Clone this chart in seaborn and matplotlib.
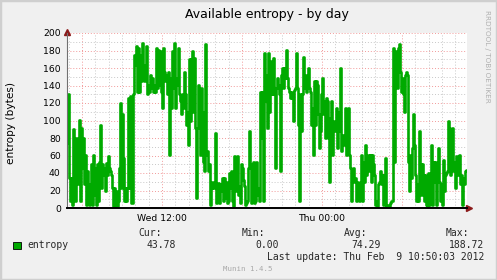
import numpy as np
import pandas as pd
import matplotlib
matplotlib.use("Agg")
import matplotlib.pyplot as plt
import matplotlib.dates as mdates
from matplotlib.ticker import MultipleLocator, FuncFormatter
from matplotlib.patches import Rectangle
import seaborn as sns

# ---- data (entropy in bytes, one sample per 270 s) ----
start_time = "2012-02-08 04:52:30"
sample_seconds = 270
entropy_wed_morning = [
    74, 130, 34, 8, 34, 4, 90, 53, 8, 80,
    27, 69, 101, 8, 91, 46, 80, 27, 61, 4,
    42, 27, 4, 8, 50, 4, 61, 15, 46, 4,
    50, 8, 53, 95, 23, 50, 38, 46, 19, 51,
    38, 59, 46, 42, 38, 23, 2, 23, 2, 19,
    2, 8, 46, 120, 23, 107, 57, 8, 23, 8,
    23, 126, 23, 128, 6, 6, 130, 175, 164, 185,
    133, 183, 133, 175, 145, 189, 160, 145, 164, 185,
    130, 141, 133, 152, 137, 149, 133, 141, 133, 183,
    137, 181, 141, 179, 133, 114, 183, 156, 145, 152,
]
entropy_wed_afternoon = [
    130, 156, 61, 149, 114, 179, 137, 189, 114, 149,
    141, 183, 130, 122, 107, 130, 114, 156, 130, 95,
    110, 72, 170, 99, 170, 179, 110, 171, 91, 11,
    91, 141, 126, 61, 137, 110, 53, 42, 187, 61,
    65, 42, 50, 4, 23, 30, 23, 27, 86, 6,
    27, 29, 6, 27, 19, 34, 8, 34, 11, 30,
    6, 8, 40, 23, 42, 8, 2, 59, 19, 23,
    59, 15, 25, 6, 50, 46, 32, 25, 4, 6,
    8, 46, 88, 50, 6, 8, 53, 6, 8, 53,
    23, 15, 8, 133, 80, 133, 8, 177, 122, 152,
    91, 177, 110,
]
entropy_night = [
    130, 168, 130, 171, 130, 46, 137, 149, 141, 130,
    42, 152, 160, 137, 160, 149, 181, 149, 137, 133,
    126, 133, 126, 99, 135, 137, 177, 137, 95, 8,
    130, 88, 130, 173, 137, 152, 133, 137, 160, 137,
    133, 95, 114, 61, 145, 95, 145, 141, 107, 69,
    88, 130, 149, 107, 122, 80, 126, 122, 80, 30,
    103, 122, 61, 91, 99, 88, 114, 69, 88, 110,
    160, 65, 84, 84, 72, 114, 61, 72, 114, 61,
    46, 8, 34, 46, 30, 34, 8, 30, 15, 8,
    30, 61, 8, 53, 30, 72, 38, 53, 61, 42,
]
entropy_thu_morning = [
    61, 30, 61, 50, 38, 4, 8, 2, 27, 30,
    42, 27, 38, 4, 38, 57, 2, 4, 4, 2,
    6, 8, 8, 183, 53, 168, 179, 137, 183, 187,
    156, 133, 149, 130, 110, 152, 156, 152, 53, 19,
    61, 34, 69, 107, 72, 38, 8, 27, 8, 88,
    50, 15, 50, 38, 8, 38, 4, 2, 40, 4,
    30, 72, 4, 53, 30, 53, 4, 38, 69, 30,
    8, 27, 4, 55, 19, 38, 40, 42, 99, 91,
    38, 88, 91, 42, 53, 23, 59, 38, 38, 61,
    27, 38, 4, 34, 27, 42, 43.78,
]
x_range = ["2012-02-08 04:52:30", "2012-02-09 10:52:30"]
y_ticks = [0, 20, 40, 60, 80, 100, 120, 140, 160, 180, 200]
stat_headers = ["Cur:", "Min:", "Avg:", "Max:"]
stat_values = ["43.78", "0.00", "74.29", "188.72"]
series_name = "entropy"
last_update = "Last update: Thu Feb  9 10:50:03 2012"

values = (entropy_wed_morning + entropy_wed_afternoon
          + entropy_night + entropy_thu_morning)
times = pd.date_range(start=start_time, periods=len(values),
                      freq=f"{sample_seconds}s")
df = pd.DataFrame({"time": times, "entropy": values})

# ---- figure ----
sns.set_style("white")
plt.rcParams["font.family"] = ["DejaVu Sans"]
W, H = 497, 280
BG = "#F0F0F0"
fig = plt.figure(figsize=(W / 100, H / 100), dpi=100, facecolor=BG)

def fx(px):
    return px / W

def fy(py):
    return 1 - py / H

# frame
fig.patches.append(Rectangle((0, 0), 1, 1, transform=fig.transFigure,
                             fill=False, edgecolor="#CFCFCF", linewidth=2.5))

ax = fig.add_axes([fx(67), fy(208), fx(400), 175 / H])
ax.set_facecolor("white")

GREEN = "#00AA00"
sns.lineplot(data=df, x="time", y="entropy", ax=ax, color=GREEN,
             linewidth=1.9, legend=False, drawstyle="steps-mid")

ax.set_xlim(pd.Timestamp(x_range[0]), pd.Timestamp(x_range[1]))
ax.set_ylim(y_ticks[0], y_ticks[-1])

# grids
ax.yaxis.set_major_locator(MultipleLocator(20))
ax.yaxis.set_minor_locator(MultipleLocator(10))
ax.xaxis.set_major_locator(mdates.HourLocator(byhour=[0, 6, 12, 18]))
ax.xaxis.set_minor_locator(mdates.HourLocator(interval=1))

def xfmt(v, pos):
    d = mdates.num2date(v)
    if d.hour in (0, 12) and d.minute == 0:
        return d.strftime("%a %H:%M")
    return ""

ax.xaxis.set_major_formatter(FuncFormatter(xfmt))
ax.grid(which="minor", color="#C8C8C8", linestyle=(0, (1, 2)), linewidth=0.7)
ax.grid(which="major", color="#F29A9A", linestyle=(0, (1, 2)), linewidth=0.7)
ax.set_axisbelow(True)

ax.tick_params(axis="both", which="both", labelsize=6.7, colors="#555555",
               labelcolor="black", direction="inout")
ax.tick_params(axis="y", which="major", length=3, width=0.6, pad=3)
ax.tick_params(axis="y", which="minor", length=2, width=0.6)
ax.tick_params(axis="x", which="major", length=3, width=0.6, pad=3)
ax.tick_params(axis="x", which="minor", length=2, width=0.6)

for s in ["top", "right"]:
    ax.spines[s].set_visible(False)
ax.spines["left"].set_color("#707070")
ax.spines["left"].set_linewidth(0.8)
ax.spines["bottom"].set_color("#000000")
ax.spines["bottom"].set_linewidth(1.4)
ax.spines["bottom"].set_zorder(5)
ax.set_xlabel("")
ax.set_ylabel("")

# axis arrows
ax.plot([1.005], [0], marker=">", color="#8B1A1A", markersize=4,
        transform=ax.transAxes, clip_on=False)
ax.plot([0], [1.005], marker="^", color="#8B1A1A", markersize=4,
        transform=ax.transAxes, clip_on=False)

# texts
fig.text(fx(267), fy(18), "Available entropy - by day", ha="center",
         va="baseline", fontsize=9, color="black")
fig.text(fx(11), fy(122.5), "entropy (bytes)", rotation=90, ha="center",
         va="center", fontsize=7.6, color="black")
fig.text(fx(487), fy(56), "RRDTOOL / TOBI OETIKER", rotation=-90,
         ha="center", va="center", fontsize=5.2, color="#B0B0B0")

MONO = "DejaVu Sans Mono"
fig.patches.append(Rectangle((fx(13), fy(248.5)), fx(7.5), 7 / H,
                             transform=fig.transFigure, facecolor=GREEN,
                             edgecolor="black", linewidth=0.6))
fig.text(fx(27), fy(245), series_name, ha="left", va="center",
         fontsize=7, family=MONO)
hdr_right = [162, 265, 367, 469]
val_right = [176, 279, 381, 484]
for h, v, hr, vr in zip(stat_headers, stat_values, hdr_right, val_right):
    fig.text(fx(hr), fy(232.5), h, ha="right", va="center", fontsize=7,
             family=MONO)
    fig.text(fx(vr), fy(245), v, ha="right", va="center", fontsize=7,
             family=MONO)
fig.text(fx(484), fy(257), last_update, ha="right", va="center",
         fontsize=7, family=MONO)
fig.text(fx(248), fy(269), "Munin 1.4.5", ha="center", va="center",
         fontsize=5.3, family=MONO, color="#A8A8A8")

fig.savefig("out.png", dpi=100, facecolor=BG)
